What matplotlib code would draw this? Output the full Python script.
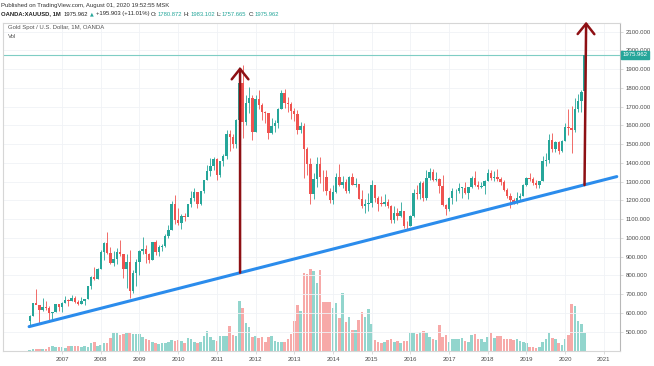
# Gold spot (XAUUSD) monthly candles with volume, trendline and two arrows
import numpy as np
import matplotlib.pyplot as plt

# monthly bars Mar 2006 .. Jul 2020
first_open = 556.0
closes = [
    582, 654, 643, 614, 633, 624, 599, 604, 646, 632,                 # 2006 Mar-Dec
    651, 669, 662, 679, 659, 650, 665, 672, 743, 789, 783, 834,       # 2007
    923, 972, 917, 865, 886, 926, 912, 833, 871, 718, 815, 869,       # 2008
    928, 942, 916, 884, 976, 927, 954, 955, 1008, 1040, 1181, 1096,   # 2009
    1081, 1118, 1113, 1180, 1213, 1244, 1181, 1248, 1307, 1357, 1386, 1421,
    1333, 1410, 1439, 1556, 1536, 1500, 1628, 1826, 1620, 1722, 1746, 1565,
    1740, 1710, 1669, 1664, 1560, 1598, 1614, 1688, 1773, 1719, 1713, 1675,
    1663, 1578, 1595, 1472, 1393, 1234, 1313, 1396, 1327, 1323, 1251, 1202,
    1244, 1326, 1284, 1296, 1250, 1327, 1282, 1287, 1210, 1172, 1183, 1184,
    1283, 1213, 1183, 1182, 1190, 1172, 1095, 1135, 1115, 1142, 1065, 1061,
    1118, 1238, 1233, 1292, 1215, 1322, 1351, 1309, 1316, 1277, 1173, 1152,
    1211, 1249, 1249, 1268, 1268, 1242, 1269, 1322, 1280, 1271, 1275, 1303,
    1345, 1318, 1325, 1316, 1299, 1253, 1224, 1201, 1192, 1215, 1222, 1282,
    1321, 1313, 1292, 1284, 1305, 1409, 1413, 1520, 1472, 1513, 1464, 1517,
    1589, 1585, 1577, 1687, 1730, 1780.059, 1975.962,                 # 2020 Jan-Jul
]
highs = [
    588, 654, 730, 640, 678, 663, 637, 607, 650, 646,
    660, 691, 675, 693, 690, 670, 683, 676, 744, 795, 846, 840,
    934, 976, 1033, 950, 928, 945, 988, 915, 913, 935, 827, 885,
    933, 1007, 960, 920, 980, 990, 960, 966, 1023, 1070, 1195, 1227,
    1162, 1130, 1134, 1180, 1249, 1266, 1245, 1250, 1308, 1388, 1424, 1431,
    1424, 1411, 1448, 1576, 1577, 1552, 1632, 1913, 1921, 1764, 1803, 1764,
    1764, 1791, 1720, 1678, 1666, 1640, 1630, 1693, 1789, 1796, 1754, 1726,
    1695, 1682, 1617, 1612, 1487, 1424, 1348, 1434, 1434, 1361, 1361, 1267,
    1280, 1345, 1392, 1331, 1315, 1332, 1345, 1322, 1287, 1255, 1205, 1239,
    1307, 1283, 1224, 1224, 1232, 1205, 1175, 1170, 1157, 1191, 1142, 1088,
    1124, 1263, 1283, 1304, 1304, 1362, 1375, 1367, 1353, 1318, 1337, 1180,
    1220, 1264, 1262, 1295, 1270, 1296, 1272, 1331, 1357, 1306, 1299, 1307,
    1366, 1361, 1356, 1365, 1326, 1309, 1266, 1237, 1214, 1243, 1237, 1285,
    1326, 1346, 1324, 1310, 1306, 1439, 1453, 1555, 1557, 1517, 1516, 1524,
    1611, 1689, 1704, 1747, 1765, 1789, 1983.102,
]
lows = [
    538, 582, 652, 543, 610, 613, 560, 561, 603, 608,
    603, 651, 636, 664, 651, 642, 646, 641, 672, 725, 775, 780,
    834, 880, 913, 862, 849, 862, 905, 786, 735, 681, 704, 745,
    802, 913, 865, 866, 883, 911, 904, 930, 950, 1002, 1040, 1075,
    1071, 1045, 1088, 1116, 1163, 1199, 1157, 1175, 1240, 1307, 1330, 1360,
    1308, 1325, 1381, 1419, 1462, 1477, 1480, 1601, 1532, 1604, 1667, 1523,
    1563, 1690, 1627, 1613, 1527, 1555, 1564, 1588, 1686, 1694, 1672, 1635,
    1626, 1555, 1562, 1321, 1338, 1180, 1208, 1271, 1292, 1251, 1227, 1187,
    1182, 1238, 1277, 1268, 1240, 1240, 1280, 1273, 1207, 1161, 1131, 1142,
    1167, 1191, 1142, 1170, 1170, 1162, 1077, 1080, 1097, 1112, 1052, 1046,
    1062, 1111, 1208, 1206, 1199, 1200, 1310, 1302, 1302, 1241, 1171, 1123,
    1146, 1180, 1195, 1241, 1214, 1236, 1205, 1265, 1275, 1261, 1264, 1236,
    1302, 1307, 1303, 1301, 1282, 1251, 1211, 1160, 1180, 1182, 1196, 1221,
    1275, 1303, 1281, 1266, 1267, 1301, 1382, 1400, 1459, 1459, 1445, 1459,
    1517, 1547, 1451, 1567, 1671, 1671, 1757.665,
]
volumes = [
    1, 2, 2, 2, 2, 2, 4, 5, 4, 4,
    4, 3, 5, 5, 5, 5, 4, 5, 4, 8, 9, 5,
    6, 8, 8, 13, 18, 18, 16, 17, 18, 18, 17, 17,
    17, 14, 12, 11, 9, 8, 7, 8, 8, 9, 11, 10,
    11, 10, 8, 13, 12, 9, 8, 9, 15, 20, 14, 11,
    10, 15, 15, 15, 25, 16, 15, 50, 43, 28, 24, 14,
    15, 13, 14, 9, 14, 15, 10, 9, 9, 9, 12, 17,
    30, 46, 40, 78, 77, 82, 80, 68, 81, 49, 49, 49,
    43, 48, 33, 58, 29, 34, 21, 21, 31, 39, 34, 42,
    27, 11, 9, 8, 9, 11, 12, 9, 10, 8, 10, 10,
    18, 18, 17, 19, 20, 18, 14, 12, 11, 26, 14, 16,
    9, 12, 12, 12, 13, 10, 9, 16, 17, 12, 12, 9,
    14, 18, 13, 15, 15, 12, 12, 12, 11, 12, 10, 9,
    8, 4, 4, 3, 4, 9, 12, 18, 13, 12, 8, 6,
    12, 16, 47, 45, 30, 27, 18,
]
years = [str(y) for y in range(2007, 2022)]
price_ticks = list(range(500, 2101, 100))
last_price = 1975.962
header_left = 'OANDA:XAUUSD, 1M'
header_parts = [('1975.962', '#222222'), ('\u25b2', '#26a69a'),
                ('+195.903 (+11.01%)', '#222222'),
                ('O:', '#222222'), ('1780.872', '#26a69a'),
                ('H:', '#222222'), ('1983.102', '#26a69a'),
                ('L:', '#222222'), ('1757.665', '#26a69a'),
                ('C:', '#222222'), ('1975.962', '#26a69a')]

# drawings (x in months from Jan 2007, y in price)
trend_x = [-10.2, 172.0]
trend_y = [527, 1327]
arrow1 = [(55.2, 815), (55.2, 1912)]
arrow2 = [(162.0, 1282), (162.5, 2153)]

green, red = '#26a69a', '#ef5350'
vgreen, vred = '#92d5cd', '#f7a9a8'

plt.rcParams['font.family'] = ['Liberation Sans', 'DejaVu Sans']

opens = [first_open] + closes[:-1]
opens[-1] = 1780.872
o = np.array(opens, float); c = np.array(closes, float)
h = np.array(highs, float); l = np.array(lows, float)
x = np.arange(len(c)) - 10
up = c >= o
cols = np.where(up, green, red)
vcols = np.where(up, vgreen, vred)

fig = plt.figure(figsize=(6.54, 3.66), dpi=100)
W, H = 654.0, 366.0
ax2 = fig.add_axes([3 / W, 15 / H, 617 / W, 328 / H])
ax = fig.add_axes([3 / W, 15 / H, 617 / W, 328 / H], sharex=ax2)
ax.patch.set_visible(False)

# volume
ax2.bar(x, volumes, width=0.8, color=vcols, zorder=2)
ax2.set_ylim(0, 328)
ax2.set_yticks([])
for s in ax2.spines.values():
    s.set_visible(False)

# candles
ax.vlines(x, l, h, colors=cols, lw=0.6, zorder=3)
body = np.maximum(np.abs(c - o), 2)
ax.bar(x, body, bottom=np.minimum(o, c), width=0.75, color=cols, zorder=4)

ax.set_xlim(-18.3, 173.0)
ax.set_ylim(397, 2146)

ax.yaxis.tick_right()
ax.set_yticks(price_ticks)
ax.set_yticklabels(['%.3f' % p for p in price_ticks])
ax.set_xticks(np.arange(len(years)) * 12)
ax.set_xticklabels(years)
ax.tick_params(axis='both', labelsize=4.3, colors='#cccccc', labelcolor='#4a4a4a',
               length=2, width=0.5, pad=2)
ax2.tick_params(axis='x', length=0, labelbottom=False)
ax.grid(True, color='#f0f2f6', lw=0.6, zorder=0)
ax.set_axisbelow(True)
for s in ax.spines.values():
    s.set_color('#d6d6d6')
    s.set_linewidth(0.8)
ax.spines['right'].set_color('#b8b8b8')

# last price line and label
ax.axhline(last_price, color='#7fcdc4', lw=0.8, zorder=2)
ax.text(1.004, last_price, '%.3f' % last_price, transform=ax.get_yaxis_transform(),
        ha='left', va='center', fontsize=4.3, color='white', zorder=10,
        bbox=dict(boxstyle='square,pad=0.25', fc=green, ec=green))

# trendline and arrows
ax.plot(trend_x, trend_y, color='#2b8cec', lw=2.2, solid_capstyle='round', zorder=5)
for a in (arrow1, arrow2):
    ax.annotate('', xy=a[1], xytext=a[0], annotation_clip=False,
                arrowprops=dict(arrowstyle='->,head_length=0.75,head_width=0.6',
                                color='#8e1014', lw=1.8, shrinkA=0, shrinkB=0,
                                mutation_scale=10), zorder=6)

# header
def px(xp, yp):
    return xp / W, 1 - yp / H

fig.text(*px(1, 6), 'Published on TradingView.com, August 01, 2020 19:52:55 MSK',
         fontsize=4.3, color='#333333', va='center')

renderer = fig.canvas.get_renderer()
t = fig.text(*px(1, 14), header_left, fontsize=4.2, color='#222222',
             weight='bold', va='center')
xpos = t.get_window_extent(renderer).x1 + 3
for i, (s, col) in enumerate(header_parts):
    fam = ['DejaVu Sans'] if s == '\u25b2' else None
    t = fig.text(xpos / W, 1 - 14 / H, s, fontsize=3.5 if fam else 4.2,
                 color=col, va='center', family=fam)
    gap = 0.5 if s.endswith(':') else 1.8
    xpos = t.get_window_extent(renderer).x1 + gap

fig.text(*px(8, 28), 'Gold Spot / U.S. Dollar, 1M, OANDA', fontsize=4.3,
         color='#555555', va='center')
fig.text(*px(8, 36), 'Vol', fontsize=4.3, color='#555555', va='center')

fig.savefig('out.png', dpi=100)
